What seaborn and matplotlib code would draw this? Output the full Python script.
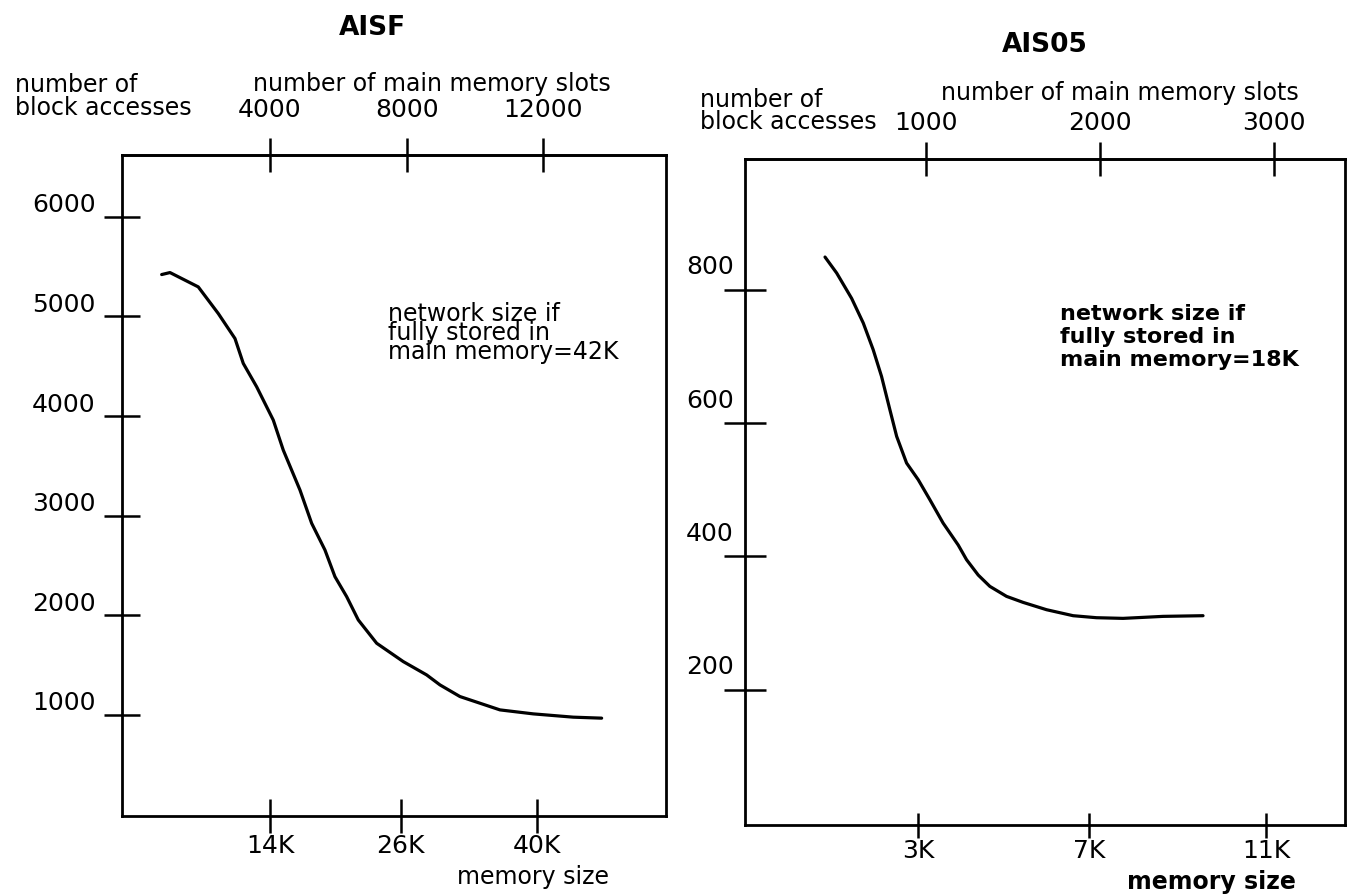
import numpy as np
import pandas as pd
import seaborn as sns
import matplotlib.pyplot as plt
from matplotlib.transforms import ScaledTranslation

# --- AISF panel (left) ---
aisf_slots = [831, 1074, 1902, 2487, 2976, 3219, 3611, 4097, 4389, 4878, 5220, 5609,
              5902, 6244, 6584, 7122, 7900, 8585, 8974, 9559, 10730, 11704, 12875, 13705]
aisf_access = [5420, 5440, 5296, 5029, 4778, 4528, 4293, 3959, 3658, 3257, 2923, 2655,
               2387, 2187, 1953, 1719, 1535, 1401, 1301, 1184, 1050, 1010, 977, 967]
aisf_slot_ticks = [4000, 8000, 12000]
aisf_mem_labels = ["14K", "26K", "40K"]
aisf_mem_at_slots = [4000, 7830, 11810]   # where each memory size sits on the slot scale
aisf_yticks = [1000, 2000, 3000, 4000, 5000, 6000]

# --- AIS05 panel (right) ---
ais05_slots = [420, 487, 573, 640, 697, 745, 793, 832, 889, 956, 1023, 1099,
               1186, 1234, 1301, 1368, 1464, 1559, 1694, 1847, 1981, 2134, 2364, 2594]
ais05_access = [849, 825, 787, 750, 710, 670, 620, 580, 540, 515, 485, 450,
                417, 395, 372, 355, 340, 331, 320, 311, 308, 307, 310, 311]
ais05_slot_ticks = [1000, 2000, 3000]
ais05_mem_labels = ["3K", "7K", "11K"]
ais05_mem_at_slots = [956, 1938, 2958]
ais05_yticks = [200, 400, 600, 800]

sns.set_theme(style="white")
plt.rcParams["font.family"] = ["DejaVu Sans"]
ink = "black"

fig = plt.figure(figsize=(13.48, 8.96), dpi=100)
ax1 = fig.add_axes([0.0905, 0.0893, 0.4036, 0.7377])
ax2 = fig.add_axes([0.5527, 0.0792, 0.4450, 0.7433])

df1 = pd.DataFrame({"slots": aisf_slots, "accesses": aisf_access})
df2 = pd.DataFrame({"slots": ais05_slots, "accesses": ais05_access})

sns.lineplot(data=df1, x="slots", y="accesses", ax=ax1, color=ink, linewidth=2.3, estimator=None)
sns.lineplot(data=df2, x="slots", y="accesses", ax=ax2, color=ink, linewidth=2.3, estimator=None)


def style_panel(ax, xlim, ylim, yticks, slot_ticks, mem_pos, mem_labels,
                ylen, ypad, ylab_dy, xlen, xpad, toplen, toppad):
    ax.set_xlim(*xlim)
    ax.set_ylim(*ylim)
    ax.set_xlabel("")
    ax.set_ylabel("")
    for s in ax.spines.values():
        s.set_visible(True)
        s.set_color(ink)
        s.set_linewidth(2.0)

    ax.set_yticks(yticks)
    ax.set_yticklabels([str(v) for v in yticks])
    ax.tick_params(axis="y", direction="inout", length=ylen, width=1.8, pad=ypad,
                   labelsize=18, colors=ink, left=True, right=False)
    ax.set_xticks(mem_pos)
    ax.set_xticklabels(mem_labels)
    ax.tick_params(axis="x", direction="inout", length=xlen, width=1.8, pad=xpad,
                   labelsize=18, colors=ink, bottom=True, top=False)
    # hand-lettered y labels sit a little above their ticks
    off = ScaledTranslation(0, ylab_dy / 72, fig.dpi_scale_trans)
    for lab in ax.get_yticklabels():
        lab.set_transform(lab.get_transform() + off)

    top = ax.secondary_xaxis("top")
    top.set_xticks(slot_ticks)
    top.set_xticklabels([str(v) for v in slot_ticks])
    top.tick_params(direction="inout", length=toplen, width=1.8, pad=toppad,
                    labelsize=18, colors=ink)
    top.spines["top"].set_linewidth(2.0)


style_panel(ax1, (-330, 15590), (-15, 6620), aisf_yticks, aisf_slot_ticks,
            aisf_mem_at_slots, aisf_mem_labels,
            ylen=26, ypad=6, ylab_dy=10, xlen=24, xpad=1, toplen=24, toppad=12)
style_panel(ax2, (-40, 3410), (-3, 996), ais05_yticks, ais05_slot_ticks,
            ais05_mem_at_slots, ais05_mem_labels,
            ylen=30, ypad=-7, ylab_dy=18, xlen=18, xpad=1, toplen=24, toppad=5)

# titles and axis captions
ax1.text(0.46, 1.192, "AISF", transform=ax1.transAxes, ha="center", va="center",
         fontsize=19, fontweight="bold", color=ink)
ax2.text(0.50, 1.171, "AIS05", transform=ax2.transAxes, ha="center", va="center",
         fontsize=19, fontweight="bold", color=ink)

ax1.text(0.57, 1.107, "number of main memory slots", transform=ax1.transAxes,
         ha="center", va="center", fontsize=17, color=ink)
ax2.text(0.625, 1.099, "number of main memory slots", transform=ax2.transAxes,
         ha="center", va="center", fontsize=17, color=ink)

ax1.text(-0.197, 1.088, "number of\nblock accesses", transform=ax1.transAxes,
         ha="left", va="center", fontsize=17, linespacing=0.95, color=ink)
ax2.text(-0.075, 1.072, "number of\nblock accesses", transform=ax2.transAxes,
         ha="left", va="center", fontsize=17, linespacing=0.9, color=ink)

ax1.text(0.755, -0.093, "memory size", transform=ax1.transAxes,
         ha="center", va="center", fontsize=17, color=ink)
ax2.text(0.777, -0.086, "memory size", transform=ax2.transAxes,
         ha="center", va="center", fontsize=17, fontweight="bold", color=ink)

ax1.text(0.489, 0.778, "network size if\nfully stored in\nmain memory=42K",
         transform=ax1.transAxes, ha="left", va="top", fontsize=17,
         linespacing=0.75, color=ink)
ax2.text(0.525, 0.783, "network size if\nfully stored in\nmain memory=18K",
         transform=ax2.transAxes, ha="left", va="top", fontsize=16,
         fontweight="bold", linespacing=1.2, color=ink)

plt.savefig("out.png", dpi=100)
plt.close()
